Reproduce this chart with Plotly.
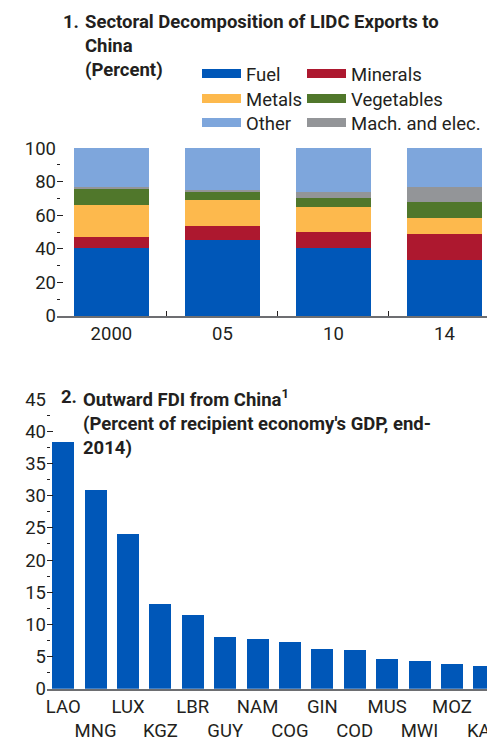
import plotly.graph_objects as go

# ---------------- data ----------------
years = ["2000", "05", "10", "14"]
fuel = [40.7, 45.4, 40.7, 33.5]
minerals = [6.3, 8.2, 9.3, 15.3]
metals = [19.1, 15.4, 14.9, 9.5]
vegetables = [9.5, 4.8, 5.3, 9.6]
mach_elec = [1.2, 1.2, 3.6, 8.9]
other = [23.2, 25.0, 26.2, 23.2]

countries = ["LAO", "MNG", "LUX", "KGZ", "LBR", "GUY", "NAM", "COG",
             "GIN", "COD", "MUS", "MWI", "MOZ", "KAZ"]
fdi = [38.3, 30.9, 24.0, 13.15, 11.4, 8.0, 7.7, 7.25, 6.15, 6.0, 4.6, 4.3, 3.85, 3.5]

# ---------------- style ----------------
OFF = 8                      # page body margin
W, H = 495 - OFF, 742 - OFF  # figure fits the window after the body margin
FONT = "Roboto"
TXT = "#231f20"
AXIS = "#6d6e71"
COLORS = {
    "Fuel": "#0057B8",
    "Minerals": "#AD182F",
    "Metals": "#FDB94D",
    "Vegetables": "#50772B",
    "Mach. and elec.": "#939598",
    "Other": "#7EA6DC",
}

def px_x(p):
    return (p - OFF) / W

def px_y(p):
    return 1 - (p - OFF) / H

fig = go.Figure()

series = [("Fuel", fuel), ("Minerals", minerals), ("Metals", metals),
          ("Vegetables", vegetables), ("Mach. and elec.", mach_elec), ("Other", other)]
for name, vals in series:
    fig.add_trace(go.Bar(x=years, y=vals, name=name, marker_color=COLORS[name],
                         marker_line_width=0, width=0.676, showlegend=False,
                         xaxis="x", yaxis="y"))

# legend entries: one legend per entry, two columns x three rows
legend_slots = [
    ("legend", "Fuel", 197, 74),
    ("legend2", "Minerals", 302, 74),
    ("legend3", "Metals", 197, 99),
    ("legend4", "Vegetables", 302, 99),
    ("legend5", "Other", 197, 123),
    ("legend6", "Mach. and elec.", 302, 123),
]
legend_layout = {}
for lg, name, lx, ly in legend_slots:
    fig.add_trace(go.Scatter(x=[None], y=[None], mode="lines", name=name,
                             line=dict(color=COLORS[name], width=9),
                             legend=lg, xaxis="x", yaxis="y", hoverinfo="skip"))
    legend_layout[lg] = dict(x=px_x(lx), y=px_y(ly), xanchor="left", yanchor="middle",
                             orientation="v", bgcolor="rgba(0,0,0,0)", borderwidth=0,
                             itemwidth=39, traceorder="normal",
                             font=dict(family=FONT, size=18.5, color=TXT))

fig.add_trace(go.Bar(x=countries, y=fdi, marker_color=COLORS["Fuel"], marker_line_width=0,
                     width=0.68, showlegend=False, xaxis="x2", yaxis="y2"))

# helper traces for right-hand tick axes
fig.add_trace(go.Scatter(x=[None], y=[None], xaxis="x", yaxis="y3", showlegend=False))
fig.add_trace(go.Scatter(x=[None], y=[None], xaxis="x2", yaxis="y4", showlegend=False))

tickfont = dict(family=FONT, size=18.5, color=TXT)
TOP_RANGE = [0, 100.05]
BOT_RANGE = [0, 45.03]

fig.update_layout(
    width=W, height=H,
    margin=dict(l=0, r=0, t=0, b=0, autoexpand=False),
    paper_bgcolor="white", plot_bgcolor="white",
    barmode="stack", bargap=0,
    font=dict(family=FONT, color=TXT),
    xaxis=dict(domain=[px_x(57), 1], type="category", range=[-0.49, 3.455],
               showline=True, linecolor=AXIS, linewidth=2,
               ticks="inside", tickson="boundaries", ticklen=5, tickcolor=TXT, tickwidth=1,
               tickfont=tickfont, tickangle=0, showgrid=False, zeroline=False,
               automargin=False, anchor="y"),
    yaxis=dict(domain=[px_y(316), px_y(148)], range=TOP_RANGE, dtick=20,
               ticks="inside", ticklen=6, tickcolor=TXT, tickwidth=1,
               minor=dict(dtick=10, ticks="inside", ticklen=3, tickcolor=TXT),
               showline=False, showgrid=False, zeroline=False, tickfont=tickfont,
               automargin=False, anchor="x"),
    yaxis3=dict(overlaying="y", side="right", anchor="x", range=TOP_RANGE, dtick=20,
                ticks="inside", ticklen=3, tickcolor=TXT, showticklabels=False,
                showline=False, showgrid=False, zeroline=False, automargin=False),
    xaxis2=dict(domain=[px_x(47), 1], type="category", range=[-0.5, 13.33],
                showline=True, linecolor=AXIS, linewidth=2, ticks="",
                tickvals=countries,
                ticktext=[c if i % 2 == 0 else "<br>" + c for i, c in enumerate(countries)],
                tickfont=tickfont, tickangle=0, showgrid=False, zeroline=False,
                automargin=False, anchor="y2"),
    yaxis2=dict(domain=[px_y(688.7), px_y(399)], range=BOT_RANGE, dtick=5,
                ticks="inside", ticklen=6, tickcolor=TXT, tickwidth=1,
                minor=dict(dtick=2.5, ticks="inside", ticklen=3, tickcolor=TXT),
                showline=False, showgrid=False, zeroline=False, tickfont=tickfont,
                automargin=False, anchor="x2"),
    yaxis4=dict(overlaying="y2", side="right", anchor="x2", range=BOT_RANGE, dtick=5,
                ticks="inside", ticklen=3, tickcolor=TXT, showticklabels=False,
                showline=False, showgrid=False, zeroline=False, automargin=False),
    **legend_layout,
)

title_font = dict(family=FONT, size=18.5, color=TXT)
fig.add_annotation(text="<b>1.</b>", x=px_x(61), y=px_y(8.5), xref="paper", yref="paper",
                   xanchor="left", yanchor="top", showarrow=False, font=title_font)
fig.add_annotation(text="<b>Sectoral Decomposition of LIDC Exports to<br>China<br>(Percent)</b>",
                   x=px_x(83), y=px_y(8.5), xref="paper", yref="paper", align="left",
                   xanchor="left", yanchor="top", showarrow=False, font=title_font)
fig.add_annotation(text="<b>2.</b>", x=px_x(59), y=px_y(384), xref="paper", yref="paper",
                   xanchor="left", yanchor="top", showarrow=False, font=title_font)
fig.add_annotation(text="<b>Outward FDI from China<sup>1</sup><br>(Percent of recipient economy's GDP, end-<br>2014)</b>",
                   x=px_x(81), y=px_y(384), xref="paper", yref="paper", align="left",
                   xanchor="left", yanchor="top", showarrow=False, font=title_font)

fig.write_html("out.html")
